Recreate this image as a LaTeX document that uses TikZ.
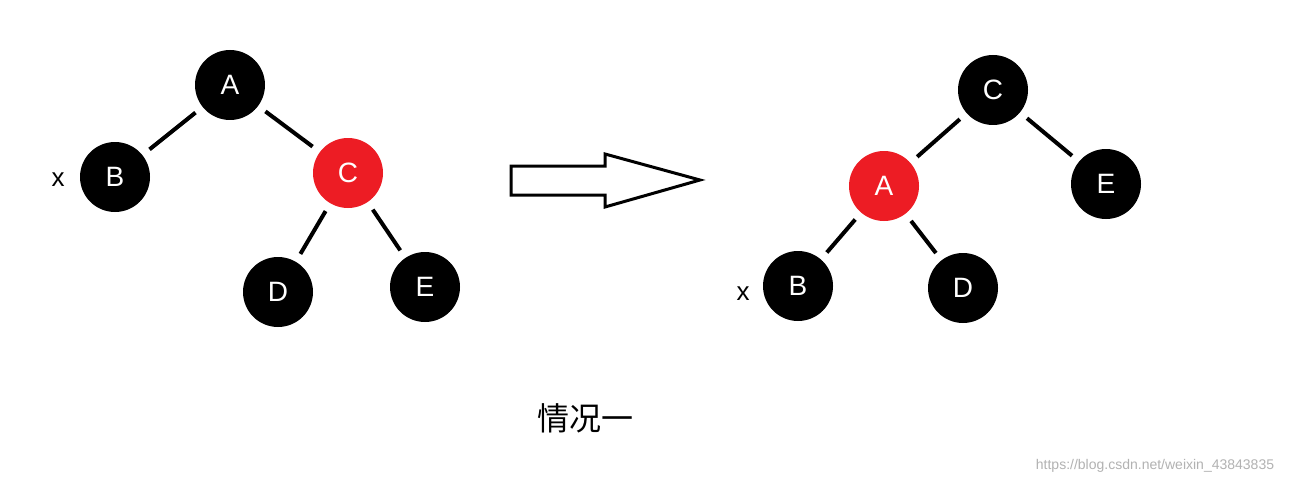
\documentclass[tikz,border=0pt]{standalone}
\usepackage{fontspec}
\setmainfont{Liberation Sans}
\newfontfamily\cjk{Noto Sans CJK SC}
\definecolor{rbred}{RGB}{237,28,36}
\begin{document}
\begin{tikzpicture}[x=1pt,y=-1pt,
  bnode/.style={circle,fill=black,minimum size=70pt,inner sep=0pt,text=white,font=\fontsize{28}{32}\selectfont},
  rnode/.style={bnode,fill=rbred},
  edge/.style={line width=4pt,shorten <=9pt,shorten >=9pt},
  lbl/.style={font=\fontsize{26}{30}\selectfont}]
\useasboundingbox (0,0) rectangle (1300,484);
\fill[white] (0,0) rectangle (1300,484);
% left tree
\node[bnode] (A1) at (230,85) {A};
\node[bnode] (B1) at (115,177) {B};
\node[rnode] (C1) at (348,173) {C};
\node[bnode] (D1) at (278,292) {D};
\node[bnode] (E1) at (425,287) {E};
\node[lbl] (x1) at (58,180) {x};
\draw[edge] (A1) -- (B1);
\draw[edge] (A1) -- (C1);
\draw[edge] (C1) -- (D1);
\draw[edge] (C1) -- (E1);
% right tree
\node[bnode] (C2) at (993,90) {C};
\node[rnode] (A2) at (884,186) {A};
\node[bnode] (E2) at (1106,184) {E};
\node[bnode] (B2) at (798,286) {B};
\node[bnode] (D2) at (963,288) {D};
\node[lbl] (x2) at (743,294) {x};
\draw[edge] (C2) -- (A2);
\draw[edge] (C2) -- (E2);
\draw[edge] (A2) -- (B2);
\draw[edge] (A2) -- (D2);
% arrow
\draw[line width=3pt,line join=miter] (511,166) -- (605,166) -- (605,154) -- (700,180) -- (605,207) -- (605,195) -- (511,195) -- cycle;
\node[font=\cjk\fontsize{32}{36}\selectfont] (t) at (585,418) {情况一};
\node[font=\fontsize{14}{16}\selectfont,text=gray!60] (w) at (1155,466) {https://blog.csdn.net/weixin\_43843835};
\end{tikzpicture}
\end{document}
